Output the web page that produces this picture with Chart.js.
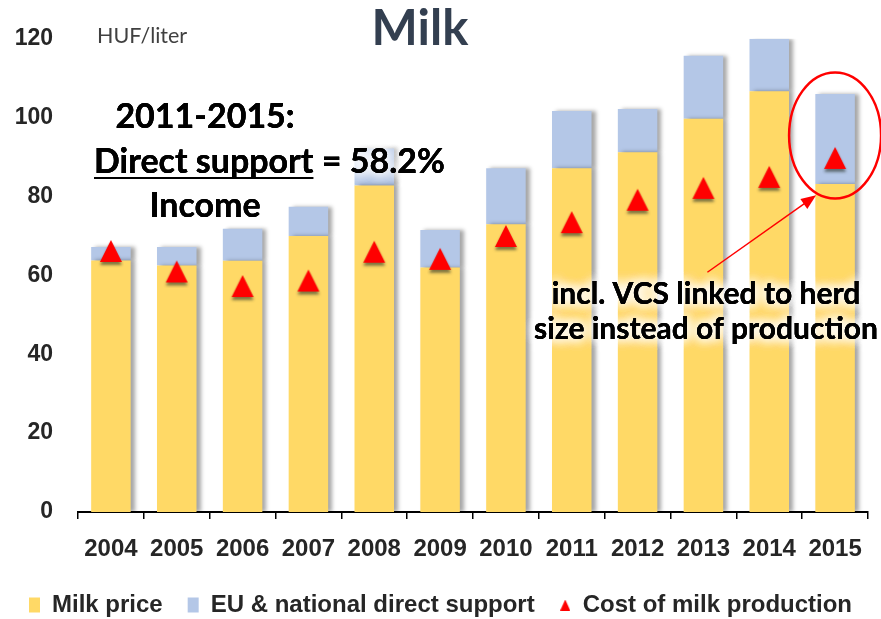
<!DOCTYPE html>
<html>
<head>
<meta charset="utf-8">
<script src="https://cdn.jsdelivr.net/npm/chart.js@4.4.0/dist/chart.umd.min.js"></script>
<style>
html, body { margin: 0; padding: 0; background: #fff; }
</style>
</head>
<body>
<canvas id="milkChart" width="881" height="619"></canvas>
<script>
const years = ['2004', '2005', '2006', '2007', '2008', '2009', '2010', '2011', '2012', '2013', '2014', '2015'];
const milkPrice = [63.8, 62.5, 63.7, 70.0, 82.8, 62.0, 73.0, 87.2, 91.2, 99.7, 106.7, 83.2];
const directSupport = [3.4, 4.7, 8.1, 7.4, 9.4, 9.5, 14.2, 14.5, 11.0, 16.0, 13.3, 22.8];
const productionCost = [66.2, 61.0, 57.3, 58.7, 66.0, 64.2, 70.0, 73.5, 79.2, 82.2, 85.0, 89.8];
const yTickValues = [0, 20, 40, 60, 80, 100, 120];

const seriesNames = ['Milk price', 'EU & national direct support', 'Cost of milk production'];

// red triangle used as point style (with a soft shadow under it)
function makeTriangle(w, h, pad, shadow) {
    const c = document.createElement('canvas');
    c.width = w + pad * 2;
    c.height = h + pad * 2;
    const g = c.getContext('2d');
    if (shadow) {
        g.shadowColor = 'rgba(40, 50, 40, 0.6)';
        g.shadowBlur = 3;
        g.shadowOffsetY = 3;
    }
    g.fillStyle = '#ff0000';
    g.beginPath();
    g.moveTo(pad + w / 2, pad);
    g.lineTo(pad + w, pad + h);
    g.lineTo(pad, pad + h);
    g.closePath();
    g.fill();
    return c;
}

const costMarker = makeTriangle(22, 22, 6, true);
const legendMarker = makeTriangle(10, 11, 0, false);

const barShadow = {
    id: 'barShadow',
    beforeDatasetDraw(chart, args) {
        if (args.meta.type !== 'bar') return;
        const ctx = chart.ctx;
        ctx.save();
        ctx.shadowColor = 'rgba(0, 0, 0, 0.35)';
        ctx.shadowBlur = 4;
        ctx.shadowOffsetX = 4;
    },
    afterDatasetDraw(chart, args) {
        if (args.meta.type !== 'bar') return;
        chart.ctx.restore();
    }
};

function glowText(ctx, text, x, y) {
    ctx.save();
    ctx.shadowColor = 'rgba(255, 255, 255, 1)';
    ctx.shadowBlur = 12;
    for (let i = 0; i < 4; i++) {
        ctx.fillText(text, x, y);
    }
    ctx.restore();
    ctx.fillText(text, x, y);
}

const notes = {
    id: 'notes',
    afterDraw(chart) {
        const ctx = chart.ctx;
        const x = chart.scales.x;
        const y = chart.scales.y;
        ctx.save();
        ctx.textBaseline = 'alphabetic';

        ctx.fillStyle = '#333f50';
        ctx.font = 'bold 49px Lato';
        ctx.textAlign = 'center';
        ctx.fillText('Milk', 420, 45);

        ctx.fillStyle = '#404040';
        ctx.font = '21.5px Lato';
        ctx.textAlign = 'left';
        ctx.fillText('HUF/liter', 97, 43);

        // left note
        ctx.fillStyle = '#000';
        ctx.font = 'bold 34px Lato';
        ctx.textAlign = 'center';
        glowText(ctx, '2011-2015:', 205, 128);
        glowText(ctx, 'Income', 205, 217);

        ctx.textAlign = 'left';
        const part1 = 'Direct support';
        const w1 = ctx.measureText(part1).width;
        glowText(ctx, part1, 94, 173);
        glowText(ctx, ' = 58.2%', 94 + w1, 173);
        ctx.fillRect(94, 177, w1, 2);

        // right note
        ctx.font = 'bold 30px Lato';
        ctx.textAlign = 'center';
        glowText(ctx, 'incl. VCS linked to herd', 706, 304);
        glowText(ctx, 'size instead of production', 706, 339);

        // circle round the 2015 bar
        ctx.strokeStyle = '#ff0000';
        ctx.lineWidth = 2.5;
        ctx.beginPath();
        ctx.ellipse(x.getPixelForValue(11), y.getPixelForValue(95.5), 46, 63, 0, 0, Math.PI * 2);
        ctx.stroke();

        // arrow
        const x0 = x.getPixelForValue(9) + 4, y0 = y.getPixelForValue(60.8);
        const x1 = x.getPixelForValue(11) - 19, y1 = y.getPixelForValue(80.3);
        const ang = Math.atan2(y1 - y0, x1 - x0);
        ctx.lineWidth = 1.5;
        ctx.beginPath();
        ctx.moveTo(x0, y0);
        ctx.lineTo(x1 - Math.cos(ang) * 10, y1 - Math.sin(ang) * 10);
        ctx.stroke();
        ctx.fillStyle = '#ff0000';
        ctx.beginPath();
        ctx.moveTo(x1, y1);
        ctx.lineTo(x1 - Math.cos(ang) * 15 + Math.sin(ang) * 6, y1 - Math.sin(ang) * 15 - Math.cos(ang) * 6);
        ctx.lineTo(x1 - Math.cos(ang) * 15 - Math.sin(ang) * 6, y1 - Math.sin(ang) * 15 + Math.cos(ang) * 6);
        ctx.closePath();
        ctx.fill();

        ctx.restore();
    }
};

const ctx = document.getElementById('milkChart').getContext('2d');
const milkChart = new Chart(ctx, {
    type: 'bar',
    data: {
        labels: years,
        datasets: [{
            label: seriesNames[0],
            data: milkPrice,
            backgroundColor: '#ffd966',
            stack: 'price',
            order: 2,
            barPercentage: 0.6,
            categoryPercentage: 1
        }, {
            label: seriesNames[1],
            data: directSupport,
            backgroundColor: '#b4c7e7',
            stack: 'price',
            order: 2,
            barPercentage: 0.6,
            categoryPercentage: 1
        }, {
            type: 'line',
            label: seriesNames[2],
            data: productionCost,
            stack: 'cost',
            showLine: false,
            backgroundColor: '#ff0000',
            borderColor: '#ff0000',
            pointStyle: costMarker,
            pointRadius: 12,
            order: 1
        }]
    },
    options: {
        responsive: false,
        animation: false,
        layout: {
            padding: { left: 0, right: 0, top: 33, bottom: -8 }
        },
        scales: {
            x: {
                stacked: true,
                afterFit: scale => {
                    scale.height = 56;
                },
                grid: {
                    display: true,
                    drawOnChartArea: false,
                    drawTicks: true,
                    tickLength: 7,
                    color: '#000',
                    lineWidth: 1.5
                },
                border: { display: true, color: '#000', width: 2 },
                ticks: {
                    color: '#262626',
                    padding: 16,
                    font: { family: 'Liberation Sans', size: 24, weight: 'bold' }
                }
            },
            y: {
                stacked: true,
                min: 0,
                max: 120,
                afterBuildTicks: scale => {
                    scale.ticks = yTickValues.map(v => ({ value: v }));
                },
                afterFit: scale => {
                    scale.width = 78;
                },
                grid: { display: false, drawTicks: false },
                border: { display: false },
                ticks: {
                    color: '#262626',
                    padding: 25,
                    font: { family: 'Liberation Sans', size: 23, weight: 'bold' }
                }
            },
            // empty strip on the right so the legend can use the full width
            rightGap: {
                type: 'linear',
                position: 'right',
                afterFit: scale => {
                    scale.width = 13;
                },
                grid: { display: false, drawTicks: false },
                border: { display: false },
                ticks: { display: false }
            }
        },
        plugins: {
            tooltip: { enabled: false },
            legend: {
                position: 'bottom',
                onClick: null,
                labels: {
                    usePointStyle: true,
                    pointStyleWidth: 11,
                    boxHeight: 15,
                    padding: 25,
                    color: '#262626',
                    font: { family: 'Liberation Sans', size: 24, weight: 'bold' },
                    generateLabels: chart => chart.data.datasets.map((ds, i) => ({
                        text: ds.label,
                        fillStyle: ds.backgroundColor,
                        strokeStyle: 'rgba(0,0,0,0)',
                        lineWidth: 0,
                        pointStyle: i === 2 ? legendMarker : 'rect',
                        datasetIndex: i,
                        hidden: false,
                        fontColor: '#262626'
                    }))
                }
            }
        }
    },
    plugins: [barShadow, notes]
});
</script>
</body>
</html>
